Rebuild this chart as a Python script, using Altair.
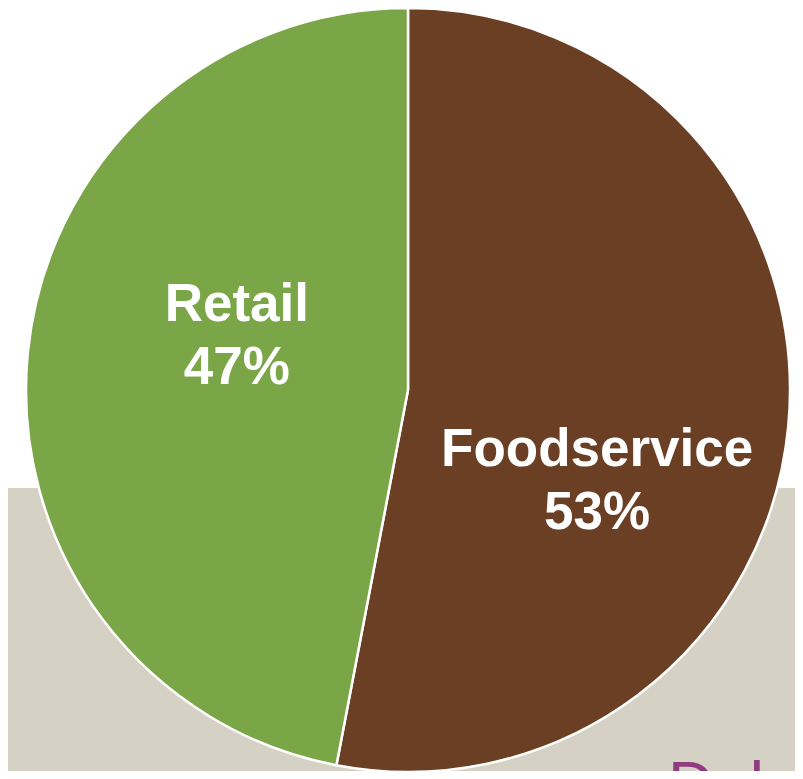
import altair as alt
import pandas as pd

categories = ["Foodservice", "Retail"]
shares = [53, 47]
colors = ["#6b3f23", "#7aa647"]
footer_text = ["Dul"]

df = pd.DataFrame({
    "category": categories,
    "share": shares,
    "order": [0, 1],
})
df["label"] = [f"{c}\n{s}%" for c, s in zip(categories, shares)]

W, H = 787, 763
cx, cy, R = 400, 382, 382

band = alt.Chart(pd.DataFrame({"a": [0]})).mark_rect(color="#d5d1c4").encode(
    x=alt.value(0), x2=alt.value(W), y=alt.value(480), y2=alt.value(H)
)

pie = alt.Chart(df).mark_arc(radius=R, stroke="white", strokeWidth=2.5).encode(
    theta=alt.Theta("share:Q", stack=True, scale=alt.Scale(domain=[0, 100])),
    order=alt.Order("order:Q"),
    color=alt.Color("category:N", scale=alt.Scale(domain=categories, range=colors), legend=None),
    x=alt.value(cx), y=alt.value(cy),
)

lab = alt.Chart(df).transform_window(
    cum="sum(share)", sort=[alt.SortField("order")], frame=[None, 0]
).transform_calculate(mid="datum.cum - datum.share / 2")


def label_layer(cat, radius, dx, dy):
    return lab.transform_filter(alt.datum.category == cat).mark_text(
        radius=radius, dx=dx, dy=dy, font="Liberation Sans", fontWeight="bold", fontSize=53,
        color="white", lineBreak="\n", lineHeight=63, align="center", baseline="middle"
    ).encode(
        theta=alt.Theta("mid:Q", stack=None, scale=alt.Scale(domain=[0, 100])),
        text="label:N", x=alt.value(cx), y=alt.value(cy),
    )


txt_food = label_layer("Foodservice", 200, -10, 41)
txt_retail = label_layer("Retail", 180, 8, -68)

footer = alt.Chart(pd.DataFrame({"t": footer_text})).mark_text(
    font="Liberation Sans", fontSize=64, color="#8e3b7f", align="left", baseline="top"
).encode(text="t:N", x=alt.value(660), y=alt.value(748))

chart = alt.layer(band, pie, txt_food, txt_retail, footer).properties(
    width=W, height=H, padding=0, autosize=alt.AutoSizeParams(type="none"),
    background="white"
).configure_view(stroke=None)

chart.save("out.html", embed_options={"renderer": "svg", "actions": False})
